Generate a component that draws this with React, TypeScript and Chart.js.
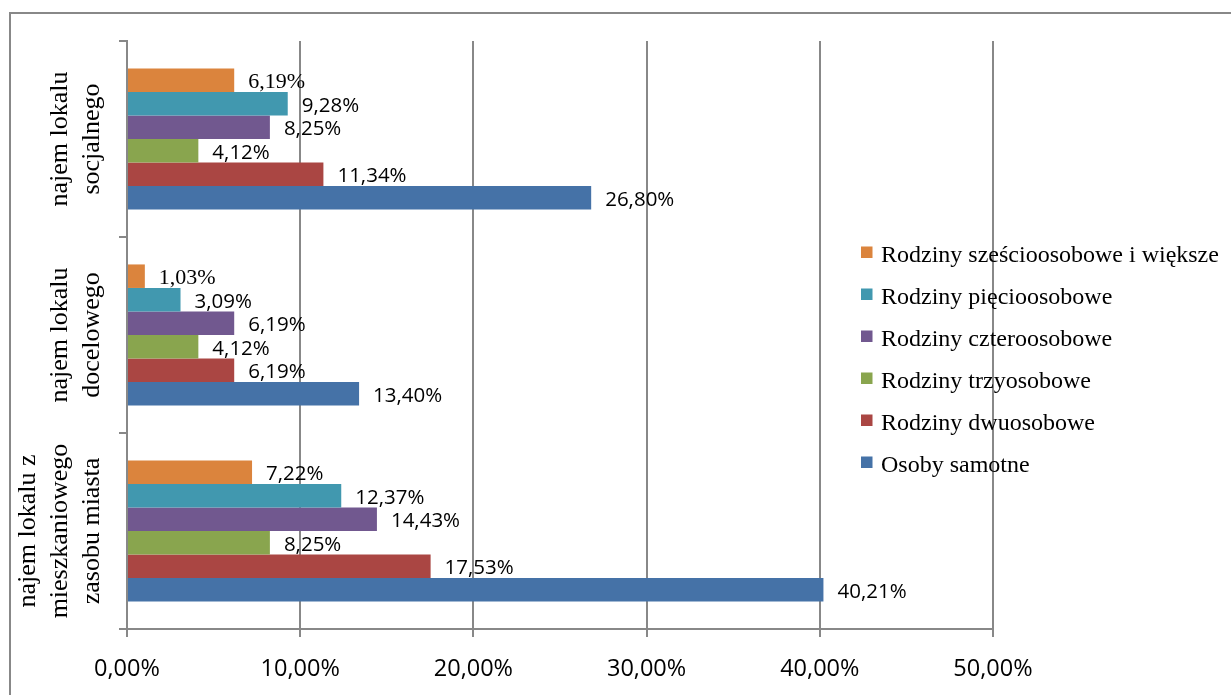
import React, { useEffect, useRef } from 'react';
import { Chart, registerables } from 'chart.js';

Chart.register(...registerables);

// ---- data ----
const categories: string[][] = [
  ['najem lokalu', 'socjalnego'],
  ['najem lokalu', 'docelowego'],
  ['najem lokalu z', 'mieszkaniowego', 'zasobu miasta'],
];
const seriesNames = [
  'Rodziny sześcioosobowe i większe',
  'Rodziny pięcioosobowe',
  'Rodziny czteroosobowe',
  'Rodziny trzyosobowe',
  'Rodziny dwuosobowe',
  'Osoby samotne',
];
const szescioosobowe = [6.19, 1.03, 7.22];
const piecioosobowe = [9.28, 3.09, 12.37];
const czteroosobowe = [8.25, 6.19, 14.43];
const trzyosobowe = [4.12, 4.12, 8.25];
const dwuosobowe = [11.34, 6.19, 17.53];
const samotne = [26.8, 13.4, 40.21];
const xTickValues = [0, 10, 20, 30, 40, 50];

// ---- styles ----
const colors = ['#DB843D', '#4198AF', '#71588F', '#89A54E', '#AA4643', '#4572A7'];
const GRID = '#888888';
const SERIF = '"Liberation Serif", "Times New Roman", serif';
const SANS = '"Open Sans", "Liberation Sans", sans-serif';

const fmt = (v: number) => v.toFixed(2).replace('.', ',') + '%';

const framePlugin = {
  id: 'frame',
  beforeDraw(chart: any) {
    const { ctx, width, height } = chart;
    ctx.save();
    ctx.fillStyle = '#ffffff';
    ctx.fillRect(0, 0, width, height);
    ctx.strokeStyle = GRID;
    ctx.lineWidth = 2;
    ctx.strokeRect(10, 13, width + 100, height + 100);
    ctx.restore();
  },
};

const valueLabelPlugin = {
  id: 'valueLabels',
  afterDatasetsDraw(chart: any) {
    const { ctx } = chart;
    ctx.save();
    ctx.fillStyle = '#000000';
    ctx.textAlign = 'left';
    ctx.textBaseline = 'middle';
    chart.data.datasets.forEach((ds: any, di: number) => {
      const meta = chart.getDatasetMeta(di);
      meta.data.forEach((bar: any, i: number) => {
        const serif = di === 0 && i < 2;
        ctx.font = serif ? `22px ${SERIF}` : `20.5px ${SANS}`;
        ctx.fillText(fmt(ds.data[i]), bar.x + 14, bar.y + 2);
      });
    });
    ctx.restore();
  },
};

const categoryLabelPlugin = {
  id: 'categoryLabels',
  afterDraw(chart: any) {
    const { ctx } = chart;
    const y = chart.scales.y;
    ctx.save();
    ctx.fillStyle = '#000000';
    ctx.font = `26px ${SERIF}`;
    ctx.textAlign = 'center';
    ctx.textBaseline = 'alphabetic';
    const lh = 32;
    const lastBaseline = 99;
    (chart.data.labels as string[][]).forEach((lines, i) => {
      const cy = y.getPixelForValue(i);
      ctx.save();
      ctx.translate(0, cy);
      ctx.rotate(-Math.PI / 2);
      const n = lines.length;
      lines.forEach((line, j) => {
        ctx.fillText(line, 0, lastBaseline - (n - 1 - j) * lh);
      });
      ctx.restore();
    });
    ctx.restore();
  },
};

const legendPlugin = {
  id: 'customLegend',
  afterDraw(chart: any) {
    const { ctx } = chart;
    ctx.save();
    ctx.font = `24px ${SERIF}`;
    ctx.textAlign = 'left';
    ctx.textBaseline = 'alphabetic';
    chart.data.datasets.forEach((ds: any, i: number) => {
      const cy = 252.5 + i * 42;
      ctx.fillStyle = ds.backgroundColor;
      ctx.fillRect(861, cy - 6, 11.5, 11.5);
      ctx.fillStyle = '#000000';
      ctx.fillText(ds.label, 881, cy + 9);
    });
    ctx.restore();
  },
};

export default function App() {
  const ref = useRef<HTMLCanvasElement>(null);

  useEffect(() => {
    if (!ref.current) return;
    const seriesData = [szescioosobowe, piecioosobowe, czteroosobowe, trzyosobowe, dwuosobowe, samotne];
    const chart = new Chart(ref.current, {
      type: 'bar',
      data: {
        labels: categories as any,
        datasets: seriesData.map((d, i) => ({
          label: seriesNames[i],
          data: d,
          backgroundColor: colors[i],
          borderWidth: 0,
          categoryPercentage: 0.72,
          barPercentage: 1,
        })),
      },
      options: {
        indexAxis: 'y',
        responsive: false,
        animation: false,
        layout: { padding: { top: 41, right: 238, left: 0, bottom: 0 } },
        plugins: {
          legend: { display: false },
          tooltip: { enabled: false },
        },
        scales: {
          x: {
            type: 'linear',
            min: 0,
            max: 50,
            afterBuildTicks: (s: any) => {
              s.ticks = xTickValues.map((v) => ({ value: v }));
            },
            afterFit: (s: any) => {
              s.height = 66;
            },
            ticks: {
              callback: (v: any) => fmt(Number(v)),
              color: '#000000',
              font: { family: SANS, size: 23.5 },
              padding: 18,
              maxRotation: 0,
            },
            grid: {
              color: GRID,
              lineWidth: 2,
              drawTicks: true,
              tickLength: 8,
            },
            border: { color: GRID, width: 2 },
          },
          y: {
            type: 'category',
            afterFit: (s: any) => {
              s.width = 127;
            },
            ticks: { display: false },
            grid: {
              drawOnChartArea: false,
              drawTicks: true,
              tickLength: 8,
              color: GRID,
              lineWidth: 2,
              offset: true,
            },
            border: { color: GRID, width: 2 },
          },
        },
      },
      plugins: [framePlugin, valueLabelPlugin, categoryLabelPlugin, legendPlugin],
    });
    return () => chart.destroy();
  }, []);

  return (
    <div style={{ position: 'fixed', left: 0, top: 0, width: 1231, height: 695, background: '#fff' }}>
      <canvas ref={ref} width={1231} height={695} style={{ width: 1231, height: 695, display: 'block' }} />
    </div>
  );
}
